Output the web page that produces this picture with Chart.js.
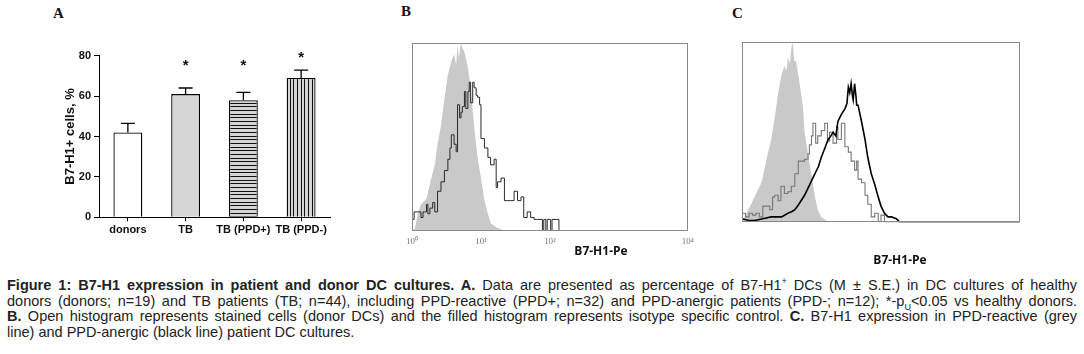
<!DOCTYPE html>
<html>
<head>
<meta charset="utf-8">
<script src="https://cdn.jsdelivr.net/npm/chart.js@4.4.0/dist/chart.umd.min.js"></script>
<style>
  body { margin: 0; background: #fff; width: 1084px; height: 354px; position: relative; overflow: hidden; font-family: "Liberation Sans", Arial, sans-serif; }
  .pane { position: absolute; }
  .letter { position: absolute; font: bold 15px "Liberation Serif", serif; line-height: 15px; color: #111; }
  .xlab { position: absolute; font: bold 12px "Open Sans", sans-serif; line-height: 14px; color: #111; transform: translateX(-50%); white-space: nowrap; }
  #caption { position: absolute; left: 7px; top: 278px; width: 1070px; font-size: 14.5px; line-height: 15.6px; color: #222; }
  #caption div { text-align: justify; text-align-last: justify; }
  #caption div.last { text-align-last: left; }
  sup, sub { font-size: 9px; line-height: 0; }
</style>
</head>
<body>
<div class="letter" style="left:53px; top:6px;">A</div>
<div class="letter" style="left:401px; top:4px;">B</div>
<div class="letter" style="left:732px; top:6px;">C</div>

<div class="pane" style="left:0; top:0;"><canvas id="chartA" width="350" height="260"></canvas></div>
<div class="pane" style="left:400px; top:30px;"><canvas id="chartB" width="300" height="235"></canvas></div>
<div class="pane" style="left:730px; top:30px;"><canvas id="chartC" width="300" height="235"></canvas></div>

<div class="xlab" style="left:601px; top:244px;">B7-H1-Pe</div>
<div class="xlab" style="left:900px; top:253px;">B7-H1-Pe</div>

<div id="caption">
  <div><b>Figure 1: B7-H1 expression in patient and donor DC cultures. A.</b> Data are presented as percentage of B7-H1<sup>+</sup> DCs (M ± S.E.) in DC cultures of healthy</div>
  <div>donors (donors; n=19) and TB patients (TB; n=44), including PPD-reactive (PPD+; n=32) and PPD-anergic patients (PPD-; n=12); *-p<sub>U</sub>&lt;0.05 vs healthy donors.</div>
  <div><b>B.</b> Open histogram represents stained cells (donor DCs) and the filled histogram represents isotype specific control. <b>C.</b> B7-H1 expression in PPD-reactive (grey</div>
  <div class="last">line) and PPD-anergic (black line) patient DC cultures.</div>
</div>

<script>
/* Panel A: % of B7-H1+ DCs, mean and S.E. */
const groups = ['donors', 'TB', 'TB (PPD+)', 'TB (PPD-)'];
const meanPct = [42, 61, 58, 69];
const sePct = [4.5, 3, 3.8, 3.9];
const starAt = [null, 77, 77, 81];
const yTicksA = [0, 20, 40, 60, 80];

/* Panel B: histograms, x in log decades (10^0..10^4), y in % of peak */
const bIsoX = [0, 0.04, 0.09, 0.13, 0.21, 0.28, 0.33, 0.37, 0.42, 0.47, 0.52, 0.57, 0.61, 0.64, 0.66, 0.68, 0.71, 0.73, 0.76, 0.81, 0.85, 0.90, 0.95, 1.00, 1.05, 1.10, 1.14, 1.24, 1.34];
const bIsoY = [0, 1, 10, 14, 17, 28, 35, 46, 56, 70, 83, 90, 94, 88, 99, 92, 100, 97, 95, 87, 76, 56, 39, 28, 16, 9, 4, 1.5, 0];
const bStainX = [0, 0.005, 0.03, 0.06, 0.09, 0.13, 0.16, 0.18, 0.21, 0.23, 0.26, 0.30, 0.33, 0.37, 0.42, 0.47, 0.52, 0.55, 0.57, 0.61,
  0.64, 0.66, 0.69, 0.71, 0.73, 0.76, 0.78, 0.81, 0.83, 0.85, 0.88, 0.90, 0.93, 0.95, 0.98, 1.00, 1.05, 1.10, 1.14, 1.19,
  1.22, 1.24, 1.29, 1.34, 1.38, 1.43, 1.48, 1.53, 1.58, 1.62, 1.67, 1.72, 1.77, 1.82, 1.89, 1.91, 1.94, 1.96, 2.01, 2.03,
  2.13, 2.15, 4.0];
const bStainY = [28, 1, 6, 10, 10, 10, 7, 10, 10, 14, 9, 12, 15, 10, 21, 26, 32, 38, 44, 51,
  46, 42, 67, 60, 63, 66, 74, 65, 74, 79, 68, 79, 76, 72, 71, 67, 49, 44, 39, 35,
  38, 23, 26, 28, 16, 16, 16, 21, 16, 18, 7, 10, 7, 6, 6, 0, 6, 0, 6, 0,
  6, 0, 0];
const bTickLabels = ['10⁰', '10¹', '10²', '', '10⁴'];

/* Panel C: isotype (filled), PPD-reactive (grey line), PPD-anergic (black line) */
const cIsoX = [0, 0.04, 0.09, 0.18, 0.28, 0.37, 0.42, 0.47, 0.52, 0.57, 0.61, 0.64, 0.66, 0.69, 0.71, 0.73, 0.75, 0.78, 0.83, 0.88, 0.90, 0.95, 1.00, 1.05, 1.09, 1.14, 1.21, 1.29];
const cIsoY = [0, 3, 7, 14, 22, 38, 46, 58, 72, 82, 87, 84, 92, 88, 97, 100, 90, 89, 77, 63, 50, 38, 26, 14, 7, 3, 1, 0];
const cReactX = [0, 0.005, 0.05, 0.10, 0.15, 0.20, 0.25, 0.30, 0.33, 0.40, 0.44, 0.47, 0.52, 0.56, 0.61, 0.66, 0.71, 0.76, 0.81, 0.85,
  0.90, 0.95, 0.97, 1.00, 1.02, 1.06, 1.09, 1.14, 1.19, 1.23, 1.26, 1.31, 1.36, 1.38, 1.43, 1.48, 1.53, 1.57, 1.62, 1.65,
  1.67, 1.72, 1.77, 1.81, 1.86, 1.91, 1.96, 2.00, 2.05, 2.10, 4.0];
const cReactY = [26, 4, 5, 3, 5, 4, 5, 3, 9, 9, 7, 14, 15, 12, 20, 16, 17, 20, 27, 34,
  34, 35, 38, 43, 48, 55, 44, 48, 51, 55, 45, 50, 44, 53, 46, 55, 42, 39, 34, 29,
  34, 24, 22, 15, 10, 3, 5, 0, 4, 0, 0];
const cAnergX = [0, 0.10, 0.18, 0.30, 0.42, 0.50, 0.57, 0.66, 0.72, 0.76, 0.80, 0.85, 0.90, 0.95, 1.00, 1.05, 1.10, 1.14, 1.19, 1.24,
  1.28, 1.31, 1.35, 1.38, 1.43, 1.48, 1.51, 1.53, 1.55, 1.57, 1.59, 1.60, 1.62, 1.64, 1.65, 1.67, 1.72, 1.77, 1.81, 1.86,
  1.91, 1.96, 2.00, 2.05, 2.10, 2.15, 2.22, 2.27, 4.0];
const cAnergY = [2, 1, 1, 2, 3, 3, 3, 5, 6, 7, 9, 12, 15, 19, 23, 27, 31, 36, 41, 46,
  48, 50, 48, 56, 60, 63, 66, 75, 72, 77, 70, 68, 77, 70, 65, 65, 56, 46, 36, 27,
  21, 14, 9, 5, 3, 3, 2, 0, 0];

const zip = (xs, ys) => xs.map((x, i) => ({ x: x, y: ys[i] }));
const axisFont = { family: 'Liberation Sans', weight: 'bold', size: 11 };

// striped fills for the two patient subgroups
function stripes(ctx, vertical) {
  const c = document.createElement('canvas');
  c.width = 11; c.height = 11;
  const g = c.getContext('2d');
  g.fillStyle = '#d6d6d6';
  g.fillRect(0, 0, 11, 11);
  g.fillStyle = '#111';
  [0, 4, 7].forEach(p => vertical ? g.fillRect(p, 0, 1, 11) : g.fillRect(0, p, 11, 1));
  return ctx.createPattern(c, 'repeat');
}

const errorBars = {
  id: 'errorBars',
  afterDatasetsDraw(chart) {
    const { ctx, scales: { x, y } } = chart;
    ctx.save();
    ctx.strokeStyle = '#000';
    ctx.lineWidth = 1.3;
    meanPct.forEach((m, i) => {
      const px = x.getPixelForValue(i);
      const top = y.getPixelForValue(m + sePct[i]);
      ctx.beginPath();
      ctx.moveTo(px, y.getPixelForValue(m));
      ctx.lineTo(px, top);
      ctx.moveTo(px - 7, top);
      ctx.lineTo(px + 7, top);
      ctx.stroke();
      if (starAt[i] !== null) {
        ctx.fillStyle = '#111';
        ctx.font = 'bold 15px "Liberation Sans"';
        ctx.textAlign = 'center';
        ctx.textBaseline = 'alphabetic';
        ctx.fillText('*', px, y.getPixelForValue(starAt[i]) + 8);
      }
    });
    ctx.restore();
  }
};

const frame = {
  id: 'frame',
  afterDatasetsDraw(chart) {
    const { ctx, chartArea: a } = chart;
    ctx.save();
    ctx.strokeStyle = '#8a8a8a';
    ctx.lineWidth = 1;
    ctx.strokeRect(Math.round(a.left) + 0.5, Math.round(a.top) + 0.5, Math.round(a.width) - 1, Math.round(a.height) - 1);
    ctx.restore();
  }
};

const ctxA = document.getElementById('chartA').getContext('2d');
new Chart(ctxA, {
  type: 'bar',
  data: {
    labels: groups,
    datasets: [{
      data: meanPct,
      backgroundColor: ['#ffffff', '#d6d6d6', stripes(ctxA, false), stripes(ctxA, true)],
      borderColor: '#000',
      borderWidth: 1.3,
      categoryPercentage: 1,
      barPercentage: 0.5
    }]
  },
  options: {
    responsive: false,
    animation: false,
    layout: { padding: { left: 0, right: 20, top: 55.7, bottom: 0 } },
    plugins: { legend: { display: false }, tooltip: { enabled: false } },
    scales: {
      x: {
        grid: { display: true, drawOnChartArea: false, offset: false, tickLength: 4, color: '#000' },
        border: { color: '#000', width: 1 },
        ticks: { color: '#111', font: axisFont, padding: 2, maxRotation: 0, autoSkip: false },
        afterFit: s => { s.height = 42.7; }
      },
      y: {
        min: 0, max: 80,
        afterBuildTicks: s => { s.ticks = yTicksA.map(v => ({ value: v })); },
        grid: { display: true, drawOnChartArea: false, tickLength: 5, color: '#000' },
        border: { color: '#000', width: 1 },
        ticks: { color: '#111', font: axisFont, padding: 3 },
        title: { display: true, text: 'B7-H1+ cells, %', color: '#111', font: { family: 'Liberation Sans', weight: 'bold', size: 13 }, padding: { top: 63, bottom: 0 } },
        afterFit: s => { s.width = 99; }
      }
    }
  },
  plugins: [errorBars]
});

function histogram(id, datasets, pad, showTicks) {
  return new Chart(document.getElementById(id), {
    type: 'line',
    data: { datasets: datasets },
    options: {
      responsive: false,
      animation: false,
      layout: { padding: pad },
      plugins: { legend: { display: false }, tooltip: { enabled: false } },
      elements: { point: { radius: 0 }, line: { tension: 0 } },
      scales: {
        x: {
          type: 'linear', min: 0, max: 4, display: showTicks,
          grid: { display: false, drawTicks: false, tickLength: 0 },
          border: { display: false },
          afterBuildTicks: s => { s.ticks = [0, 1, 2, 3, 4].map(v => ({ value: v })); },
          ticks: { color: '#777', font: { family: 'Liberation Serif', size: 9 }, padding: 6, maxRotation: 0, autoSkip: false, callback: v => bTickLabels[v] },
          afterFit: s => { s.height = 16; }
        },
        y: { min: 0, max: 100, display: false }
      }
    },
    plugins: [frame]
  });
}

histogram('chartB', [
  { data: zip(bStainX, bStainY), borderColor: '#2a2a2a', borderWidth: 1, stepped: 'after', fill: false, order: 1 },
  { data: zip(bIsoX, bIsoY), borderWidth: 0, backgroundColor: '#c9c9c9', fill: 'origin', order: 2 }
], { left: 11.7, right: 10.7, top: 12.7, bottom: 18.3 }, true);

histogram('chartC', [
  { data: zip(cAnergX, cAnergY), borderColor: '#000', borderWidth: 1.6, fill: false, order: 1 },
  { data: zip(cReactX, cReactY), borderColor: '#777', borderWidth: 1.1, stepped: 'after', fill: false, order: 2 },
  { data: zip(cIsoX, cIsoY), borderWidth: 0, backgroundColor: '#c9c9c9', fill: 'origin', order: 3 }
], { left: 12, right: 10, top: 12.3, bottom: 26.7 }, false);
</script>
</body>
</html>
